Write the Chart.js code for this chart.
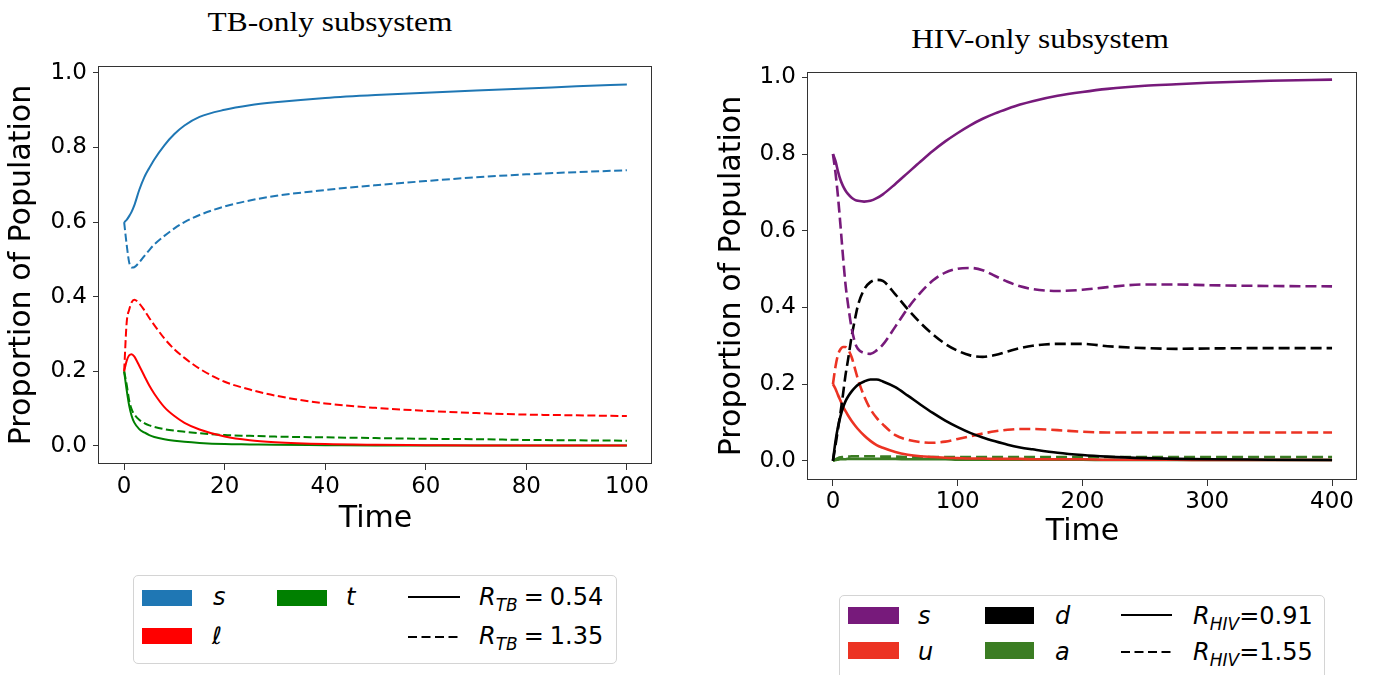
<!DOCTYPE html>
<html>
<head>
<meta charset="utf-8">
<title>TB-only and HIV-only subsystems</title>
<script src="https://cdn.jsdelivr.net/npm/chart.js@4/dist/chart.umd.min.js"></script>
<style>
  html, body { margin: 0; padding: 0; background: #fff; }
  body { position: relative; width: 1374px; height: 675px; overflow: hidden; font-family: "DejaVu Sans", sans-serif; color: #000; }
  canvas { position: absolute; top: 0; }
  .title { position: absolute; font-family: "Liberation Serif", serif; font-size: 28px; line-height: 34px; white-space: nowrap; transform: translateX(-50%) scaleX(1.12); }
  .legend { position: absolute; box-sizing: border-box; border: 1px solid #d4d4d4; border-radius: 5px; background: #fff; }
  .sw { position: absolute; }
  .lt { position: absolute; font-size: 24px; line-height: 30px; height: 30px; white-space: nowrap; }
  .it { font-style: italic; }
  .sub { font-size: 17px; font-style: italic; position: relative; top: 6px; }
  .eq { margin: 0 6px; }
  svg.ln { position: absolute; overflow: visible; }
</style>
</head>
<body>

<div class="title" style="left:330px; top:5px;">TB-only subsystem</div>
<div class="title" style="left:1040px; top:22px;">HIV-only subsystem</div>

<canvas id="tbChart" width="690" height="560" style="left:0;"></canvas>
<canvas id="hivChart" width="684" height="575" style="left:690px;"></canvas>

<!-- TB legend -->
<div class="legend" style="left:133px; top:575px; width:484px; height:89px;"></div>
<div class="sw" style="left:142px; top:590px; width:50px; height:16px; background:#1f77b4;"></div>
<div class="sw" style="left:142px; top:628px; width:50px; height:16px; background:#ff0000;"></div>
<div class="sw" style="left:277px; top:590px; width:50px; height:16px; background:#008000;"></div>
<div class="lt it" style="left:213px; top:582px;">s</div>
<div class="lt it" style="left:212px; top:621px;">ℓ</div>
<div class="lt it" style="left:346px; top:582px;">t</div>
<svg class="ln" style="left:408px; top:592px;" width="52" height="10"><line x1="0" y1="5" x2="52" y2="5" stroke="#000" stroke-width="2"/></svg>
<svg class="ln" style="left:408px; top:632px;" width="52" height="10"><line x1="0" y1="5" x2="52" y2="5" stroke="#000" stroke-width="2" stroke-dasharray="9 4.5"/></svg>
<div class="lt" style="left:479px; top:582px;"><span class="it">R</span><span class="sub">TB</span><span class="eq">=</span>0.54</div>
<div class="lt" style="left:479px; top:621px;"><span class="it">R</span><span class="sub">TB</span><span class="eq">=</span>1.35</div>

<!-- HIV legend -->
<div class="legend" style="left:839px; top:595px; width:486px; height:95px;"></div>
<div class="sw" style="left:848px; top:607px; width:51px; height:17px; background:#771a7b;"></div>
<div class="sw" style="left:848px; top:642px; width:51px; height:17px; background:#ec3323;"></div>
<div class="sw" style="left:985px; top:607px; width:49px; height:17px; background:#000000;"></div>
<div class="sw" style="left:985px; top:642px; width:49px; height:17px; background:#3b7d23;"></div>
<div class="lt it" style="left:918px; top:601px;">s</div>
<div class="lt it" style="left:918px; top:637px;">u</div>
<div class="lt it" style="left:1055px; top:601px;">d</div>
<div class="lt it" style="left:1055px; top:637px;">a</div>
<svg class="ln" style="left:1121px; top:610px;" width="51" height="10"><line x1="0" y1="5" x2="51" y2="5" stroke="#000" stroke-width="2"/></svg>
<svg class="ln" style="left:1121px; top:647px;" width="51" height="10"><line x1="0" y1="5" x2="51" y2="5" stroke="#000" stroke-width="2" stroke-dasharray="9 4.5"/></svg>
<div class="lt" style="left:1193px; top:601px;"><span class="it">R</span><span class="sub">HIV</span>=0.91</div>
<div class="lt" style="left:1193px; top:637px;"><span class="it">R</span><span class="sub">HIV</span>=1.55</div>

<script>
// ---- TB-only subsystem: proportions over time ----
const tbTime   = [0, 0.5, 1, 1.5, 2, 3, 4, 5, 6, 8, 10, 12, 15, 20, 25, 30, 40, 50, 60, 70, 80, 90, 100];
// R_TB = 0.54 (solid)
const tbSLow   = [0.600, 0.606, 0.616, 0.628, 0.644, 0.686, 0.720, 0.745, 0.768, 0.806, 0.836, 0.859, 0.882, 0.901, 0.913, 0.921, 0.933, 0.941, 0.947, 0.953, 0.958, 0.964, 0.969];
const tbLLow   = [0.200, 0.228, 0.243, 0.246, 0.240, 0.215, 0.188, 0.162, 0.140, 0.104, 0.080, 0.062, 0.044, 0.025, 0.015, 0.010, 0.005, 0.003, 0.002, 0.001, 0.001, 0.001, 0.001];
const tbTLow   = [0.200, 0.150, 0.108, 0.080, 0.063, 0.045, 0.036, 0.029, 0.024, 0.018, 0.014, 0.011, 0.008, 0.005, 0.004, 0.003, 0.002, 0.001, 0.001, 0.001, 0.001, 0.001, 0.001];
// R_TB = 1.35 (dashed)
const tbSHigh  = [0.600, 0.540, 0.492, 0.478, 0.479, 0.492, 0.509, 0.525, 0.540, 0.563, 0.583, 0.600, 0.619, 0.642, 0.658, 0.670, 0.686, 0.699, 0.710, 0.720, 0.728, 0.734, 0.739];
const tbLHigh  = [0.200, 0.330, 0.365, 0.385, 0.392, 0.382, 0.364, 0.343, 0.324, 0.288, 0.259, 0.236, 0.207, 0.172, 0.151, 0.135, 0.114, 0.102, 0.094, 0.088, 0.084, 0.082, 0.080];
const tbTHigh  = [0.200, 0.165, 0.122, 0.098, 0.085, 0.070, 0.061, 0.055, 0.051, 0.045, 0.041, 0.038, 0.034, 0.029, 0.027, 0.025, 0.023, 0.021, 0.019, 0.018, 0.016, 0.015, 0.014];
const tbXTicks = [0, 20, 40, 60, 80, 100];
const tbYTicks = [0.0, 0.2, 0.4, 0.6, 0.8, 1.0];

// ---- HIV-only subsystem: proportions over time ----
const hivTime   = [0, 2, 4, 6, 8, 10, 12, 15, 18, 20, 25, 30, 35, 40, 50, 60, 70, 80, 90, 100, 110, 120, 130, 140, 150, 160, 180, 200, 220, 250, 275, 300, 350, 400];
// R_HIV = 0.91 (solid)
const hivSLow   = [0.800, 0.782, 0.755, 0.733, 0.717, 0.705, 0.696, 0.686, 0.680, 0.678, 0.676, 0.678, 0.685, 0.695, 0.722, 0.751, 0.780, 0.808, 0.833, 0.855, 0.875, 0.892, 0.906, 0.918, 0.929, 0.938, 0.952, 0.962, 0.970, 0.978, 0.982, 0.986, 0.991, 0.994];
const hivULow   = [0.200, 0.188, 0.172, 0.157, 0.142, 0.130, 0.119, 0.104, 0.091, 0.083, 0.066, 0.052, 0.041, 0.034, 0.023, 0.016, 0.012, 0.010, 0.008, 0.007, 0.006, 0.006, 0.005, 0.005, 0.005, 0.004, 0.004, 0.004, 0.003, 0.003, 0.003, 0.002, 0.002, 0.002];
const hivDLow   = [0.000, 0.050, 0.088, 0.116, 0.138, 0.155, 0.167, 0.181, 0.192, 0.198, 0.207, 0.212, 0.212, 0.207, 0.192, 0.170, 0.147, 0.125, 0.105, 0.088, 0.073, 0.061, 0.051, 0.042, 0.035, 0.030, 0.021, 0.015, 0.011, 0.007, 0.005, 0.004, 0.003, 0.002];
const hivALow   = [0.000, 0.002, 0.003, 0.004, 0.004, 0.004, 0.005, 0.005, 0.005, 0.005, 0.005, 0.005, 0.005, 0.005, 0.005, 0.004, 0.004, 0.004, 0.004, 0.003, 0.003, 0.003, 0.003, 0.003, 0.003, 0.003, 0.003, 0.003, 0.002, 0.002, 0.002, 0.002, 0.002, 0.002];
// R_HIV = 1.55 (dashed)
const hivSHigh  = [0.800, 0.752, 0.690, 0.615, 0.535, 0.462, 0.410, 0.345, 0.305, 0.292, 0.281, 0.279, 0.288, 0.303, 0.350, 0.398, 0.438, 0.470, 0.491, 0.501, 0.503, 0.497, 0.482, 0.467, 0.455, 0.448, 0.443, 0.446, 0.453, 0.460, 0.460, 0.458, 0.456, 0.455];
const hivUHigh  = [0.200, 0.245, 0.276, 0.291, 0.297, 0.297, 0.291, 0.270, 0.236, 0.213, 0.168, 0.135, 0.112, 0.095, 0.067, 0.055, 0.049, 0.047, 0.050, 0.057, 0.064, 0.071, 0.077, 0.081, 0.083, 0.083, 0.080, 0.076, 0.074, 0.074, 0.074, 0.074, 0.074, 0.074];
const hivDHigh  = [0.000, 0.040, 0.082, 0.125, 0.172, 0.222, 0.262, 0.325, 0.375, 0.405, 0.447, 0.466, 0.472, 0.469, 0.434, 0.395, 0.360, 0.330, 0.305, 0.287, 0.275, 0.271, 0.276, 0.285, 0.294, 0.300, 0.305, 0.305, 0.299, 0.294, 0.292, 0.293, 0.294, 0.294];
const hivAHigh  = [0.000, 0.004, 0.007, 0.009, 0.010, 0.011, 0.011, 0.012, 0.012, 0.012, 0.012, 0.012, 0.012, 0.011, 0.011, 0.010, 0.010, 0.010, 0.010, 0.010, 0.010, 0.010, 0.010, 0.010, 0.010, 0.010, 0.010, 0.010, 0.010, 0.010, 0.010, 0.010, 0.010, 0.010];
const hivXTicks = [0, 100, 200, 300, 400];
const hivYTicks = [0.0, 0.2, 0.4, 0.6, 0.8, 1.0];

Chart.defaults.font.family = "'DejaVu Sans', sans-serif";
Chart.defaults.color = '#000';

// closed frame around the plotting area
const framePlugin = {
  id: 'frame',
  afterDatasetsDraw(chart) {
    const { ctx, chartArea: a } = chart;
    ctx.save();
    ctx.strokeStyle = '#333';
    ctx.lineWidth = 1;
    const l = Math.round(a.left) - 0.5, t = Math.round(a.top) + 0.5;
    const r = Math.round(a.right) - 0.5, b = Math.round(a.bottom) - 0.5;
    ctx.strokeRect(l, t, r - l, b - t);
    ctx.restore();
  }
};

function series(times, values, color, width, dash) {
  return {
    data: times.map((t, i) => ({ x: t, y: values[i] })),
    borderColor: color,
    borderWidth: width,
    borderDash: dash || [],
    pointRadius: 0,
    fill: false,
    cubicInterpolationMode: 'monotone'
  };
}

function makeChart(id, datasets, cfg) {
  const tickGrid = { drawOnChartArea: false, drawTicks: true, tickLength: 6, color: '#333', lineWidth: 1 };
  return new Chart(document.getElementById(id), {
    type: 'line',
    data: { datasets },
    plugins: [framePlugin],
    options: {
      responsive: false,
      maintainAspectRatio: false,
      animation: false,
      devicePixelRatio: 1,
      layout: { padding: cfg.padding },
      plugins: { legend: { display: false }, tooltip: { enabled: false } },
      scales: {
        x: {
          type: 'linear',
          min: cfg.xMin, max: cfg.xMax,
          grid: tickGrid,
          border: { display: false },
          afterBuildTicks: s => { s.ticks = cfg.xTicks.map(v => ({ value: v })); },
          afterFit: s => { s.height = cfg.xHeight; },
          ticks: { font: { size: 23 }, color: '#000', padding: cfg.xPad, maxRotation: 0, callback: v => String(v) },
          title: { display: true, text: 'Time', font: { size: 30 }, color: '#000', padding: { top: 0, bottom: cfg.xTitlePad } }
        },
        y: {
          type: 'linear',
          min: cfg.yMin, max: cfg.yMax,
          grid: tickGrid,
          border: { display: false },
          afterBuildTicks: s => { s.ticks = cfg.yTicks.map(v => ({ value: v })); },
          afterFit: s => { s.width = cfg.yWidth; },
          ticks: { font: { size: 23 }, color: '#000', padding: 6, callback: v => Number(v).toFixed(1) },
          title: { display: true, text: 'Proportion of Population', font: { size: 30 }, color: '#000', padding: { top: cfg.yTitlePad, bottom: 0 } }
        }
      }
    }
  });
}

// TB chart: solid R_TB = 0.54, dashed R_TB = 1.35
const tbDash = [8, 3.5];
makeChart('tbChart', [
  series(tbTime, tbSLow, '#1f77b4', 2),
  series(tbTime, tbSHigh, '#1f77b4', 2, tbDash),
  series(tbTime, tbLLow, '#ff0000', 2),
  series(tbTime, tbLHigh, '#ff0000', 2, tbDash),
  series(tbTime, tbTLow, '#008000', 2),
  series(tbTime, tbTHigh, '#008000', 2, tbDash)
], {
  padding: { top: 66, right: 38, left: 0, bottom: 0 },
  xMin: -5, xMax: 105, yMin: -0.0485, yMax: 1.0185,
  xTicks: tbXTicks, yTicks: tbYTicks,
  xHeight: 96, yWidth: 99, xPad: 3, xTitlePad: 23, yTitlePad: 4
});

// HIV chart: solid R_HIV = 0.91, dashed R_HIV = 1.55
const hivDash = [11, 5];
makeChart('hivChart', [
  series(hivTime, hivSLow, '#771a7b', 2.6),
  series(hivTime, hivSHigh, '#771a7b', 2.6, hivDash),
  series(hivTime, hivDLow, '#000000', 2.6),
  series(hivTime, hivDHigh, '#000000', 2.6, hivDash),
  series(hivTime, hivULow, '#ec3323', 2.6),
  series(hivTime, hivUHigh, '#ec3323', 2.6, hivDash),
  series(hivTime, hivALow, '#3b7d23', 2.6),
  series(hivTime, hivAHigh, '#3b7d23', 2.6, hivDash)
], {
  padding: { top: 72, right: 17, left: 0, bottom: 0 },
  xMin: -20, xMax: 420, yMin: -0.050, yMax: 1.014,
  xTicks: hivXTicks, yTicks: hivYTicks,
  xHeight: 95, yWidth: 118, xPad: 2, xTitlePad: 25, yTitlePad: 24
});
</script>
</body>
</html>
